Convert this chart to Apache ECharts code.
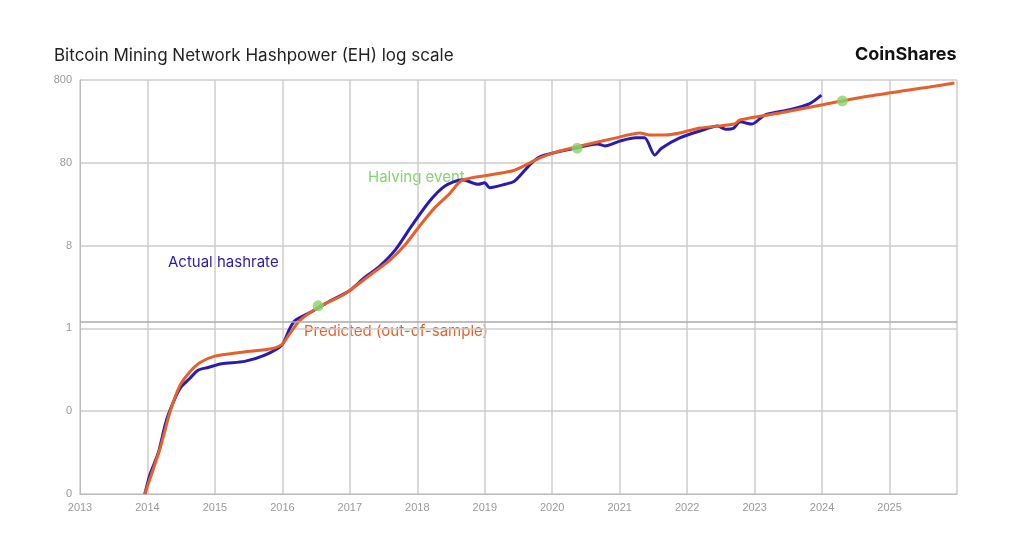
<!DOCTYPE html>
<html><head><meta charset="utf-8">
<script src="https://cdn.jsdelivr.net/npm/echarts@6/dist/echarts.min.js"></script>
<style>html,body{margin:0;padding:0;background:#fff}#c{width:1024px;height:537px}</style>
</head><body><div id="c"></div>
<script>
const yTickLabels = ['0','0','1','8','80','800'];
const actualYears = [2013.96,2014.04,2014.16,2014.26,2014.33,2014.48,2014.63,2014.75,2014.90,2015.10,2015.44,2015.74,2015.99,2016.11,2016.19,2016.44,2016.70,2017.0,2017.22,2017.44,2017.68,2017.92,2018.19,2018.41,2018.67,2018.90,2019.0,2019.07,2019.30,2019.44,2019.67,2019.81,2020.05,2020.33,2020.67,2020.78,2021.0,2021.24,2021.37,2021.52,2021.62,2021.89,2022.19,2022.45,2022.57,2022.69,2022.78,2022.96,2023.15,2023.52,2023.81,2023.99];
const actualEH = [0.008,0.014,0.025,0.054,0.081,0.15,0.20,0.25,0.27,0.30,0.32,0.38,0.50,0.80,1.0,1.28,1.7,2.3,3.3,4.5,7.2,14,28,42,50,44,46,40,44,48,76,94,107,120,135,128,146,160,160,99,120,160,194,222,204,210,250,235,302,350,412,526];
const predYears = [2013.96,2014.19,2014.33,2014.48,2014.63,2014.78,2015.0,2015.37,2015.81,2015.99,2016.11,2016.26,2016.56,2016.93,2017.37,2017.59,2017.81,2018.04,2018.26,2018.48,2018.66,2019.07,2019.44,2019.81,2020.04,2020.48,2020.93,2021.30,2021.44,2021.67,2021.89,2022.19,2022.70,2022.78,2023.37,2023.99,2024.70,2025.59,2025.96];
const predEH = [0.008,0.029,0.076,0.163,0.24,0.31,0.37,0.41,0.45,0.51,0.69,1.0,1.48,2.1,3.9,5.3,8,14,23,34,49,57,65,91,107,131,159,183,173,173,183,210,235,263,320,400,512,660,735];
const halvingYears = [2016.53,2020.37,2024.30];
const halvingEH = [1.5,120,447];

const BASE = 0.008;
const t = v => Math.log10(v / BASE);
const pairs = (xs, ys) => xs.map((x, i) => [x, t(ys[i])]);

const chart = echarts.init(document.getElementById('c'));
chart.setOption({
  animation: false,
  grid: {left: 80, right: 67, top: 80, bottom: 43},
  title: [
    {text: 'Bitcoin Mining Network Hashpower (EH) log scale', left: 49, top: 42,
     textStyle: {fontFamily: 'Inter', fontSize: 17, fontWeight: 'normal', color: '#222'}},
    {text: 'CoinShares', left: 850, top: 41,
     textStyle: {fontFamily: 'Inter', fontSize: 18, fontWeight: 'bold', color: '#111'}}
  ],
  xAxis: {
    type: 'value', min: 2013, max: 2026, interval: 1,
    axisLine: {lineStyle: {color: '#bbb'}}, axisTick: {show: false},
    axisLabel: {color: '#999', fontSize: 11, fontFamily: 'Liberation Sans',
      formatter: v => v === 2026 ? '' : String(v)},
    splitLine: {show: true, lineStyle: {color: '#ccc', width: 1.5}}
  },
  yAxis: {
    type: 'value', min: 0, max: 5, interval: 1,
    axisLine: {show: true, lineStyle: {color: '#bbb'}}, axisTick: {show: false},
    axisLabel: {color: '#999', fontSize: 11, fontFamily: 'Liberation Sans',
      formatter: v => yTickLabels[Math.round(v)]},
    splitLine: {lineStyle: {color: '#ccc', width: 1.5}}
  },
  series: [
    {type: 'line', name: 'Actual', data: pairs(actualYears, actualEH), showSymbol: false, smooth: 0.25,
     lineStyle: {color: '#2a1bb0', width: 3}, z: 3,
     markLine: {silent: true, symbol: 'none', label: {show: false},
       lineStyle: {color: '#aaa', type: 'solid', width: 1.5}, data: [{yAxis: t(0.97)}]}},
    {type: 'line', name: 'Predicted', data: pairs(predYears, predEH), showSymbol: false, smooth: 0.25,
     lineStyle: {color: '#e5602a', width: 3}, z: 4},
    {type: 'scatter', data: pairs(halvingYears, halvingEH), symbolSize: 11,
     itemStyle: {color: '#86d46d'}, z: 5}
  ],
  graphic: [
    {type: 'text', left: 368, top: 170, style: {text: 'Halving event', fill: '#86d46d', font: '15px Inter'}},
    {type: 'text', left: 168, top: 255, style: {text: 'Actual hashrate', fill: '#2a1bb0', font: '15px Inter'}},
    {type: 'text', left: 304, top: 324, style: {text: 'Predicted (out-of-sample)', fill: '#e5602a', font: '15px Inter'}}
  ]
});
</script></body></html>
